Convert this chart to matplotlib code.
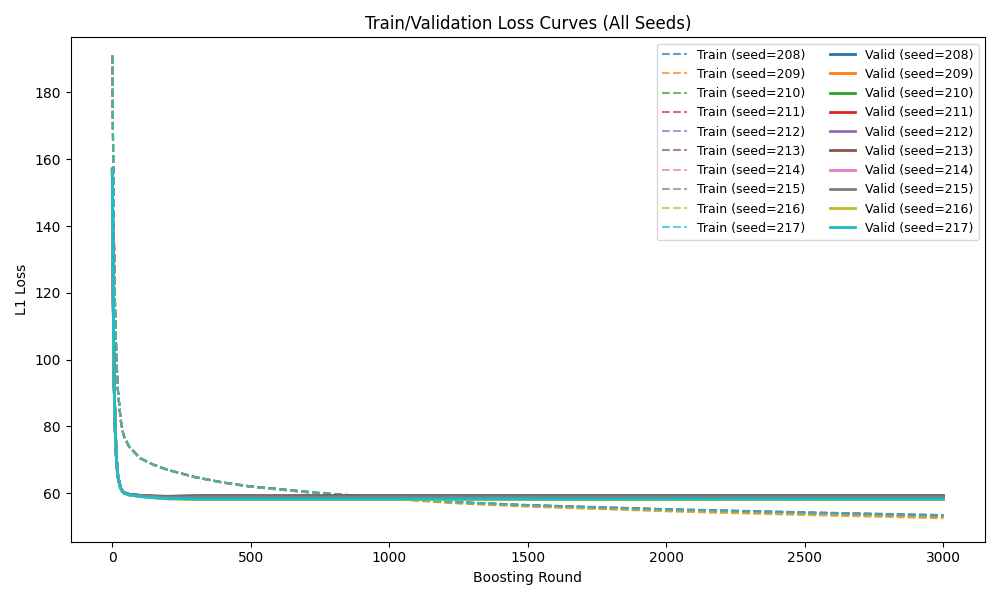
import numpy as np
import matplotlib.pyplot as plt

seeds = [208, 209, 210, 211, 212, 213, 214, 215, 216, 217]

# key rounds of the curves
rounds = [0, 3, 6, 10, 15, 20, 30, 40, 60, 100, 150, 200, 300, 400, 500, 750, 1000, 1250, 1500, 2000, 2500, 3000]
train_base = [191, 160, 135, 115, 100, 91, 82, 77.5, 74, 70.5, 68.5, 67, 64.8, 63.2, 62, 60, 58.5, 57.2, 56.3, 55.0, 54.0, 53.1]
valid_base = [157, 120, 95, 80, 70, 65, 61.5, 60.2, 59.6, 59.2, 58.9, 58.7, 58.7, 58.7, 58.7, 58.7, 58.7, 58.7, 58.7, 58.7, 58.7, 58.7]

# per-seed offsets, growing toward the end of training
train_end_offset = [0.4, -0.6, 0.0, 0.3, 0.1, -0.2, -0.1, 0.2, -0.4, 0.3]
valid_end_offset = [0.6, -0.3, -0.2, 0.4, 0.3, 0.5, 0.0, 0.2, -0.6, -0.4]

colors = plt.rcParams['axes.prop_cycle'].by_key()['color']
rounds = np.array(rounds)
w = np.clip(rounds / 3000.0, 0, 1)

fig, ax = plt.subplots(figsize=(10, 6), dpi=100)
for i, s in enumerate(seeds):
    ax.plot(rounds, np.array(train_base) + train_end_offset[i] * w, '--', color=colors[i],
            linewidth=1.5, alpha=0.7, label=f'Train (seed={s})')
for i, s in enumerate(seeds):
    ax.plot(rounds, np.array(valid_base) + valid_end_offset[i] * np.minimum(1, w * 10), '-',
            color=colors[i], linewidth=2, label=f'Valid (seed={s})')

ax.set_title('Train/Validation Loss Curves (All Seeds)')
ax.set_xlabel('Boosting Round')
ax.set_ylabel('L1 Loss')
ax.set_ylim(45.5, 196.5)
ax.legend(ncol=2, fontsize=9, loc='upper right')
plt.tight_layout()
plt.savefig('out.png', dpi=100)
